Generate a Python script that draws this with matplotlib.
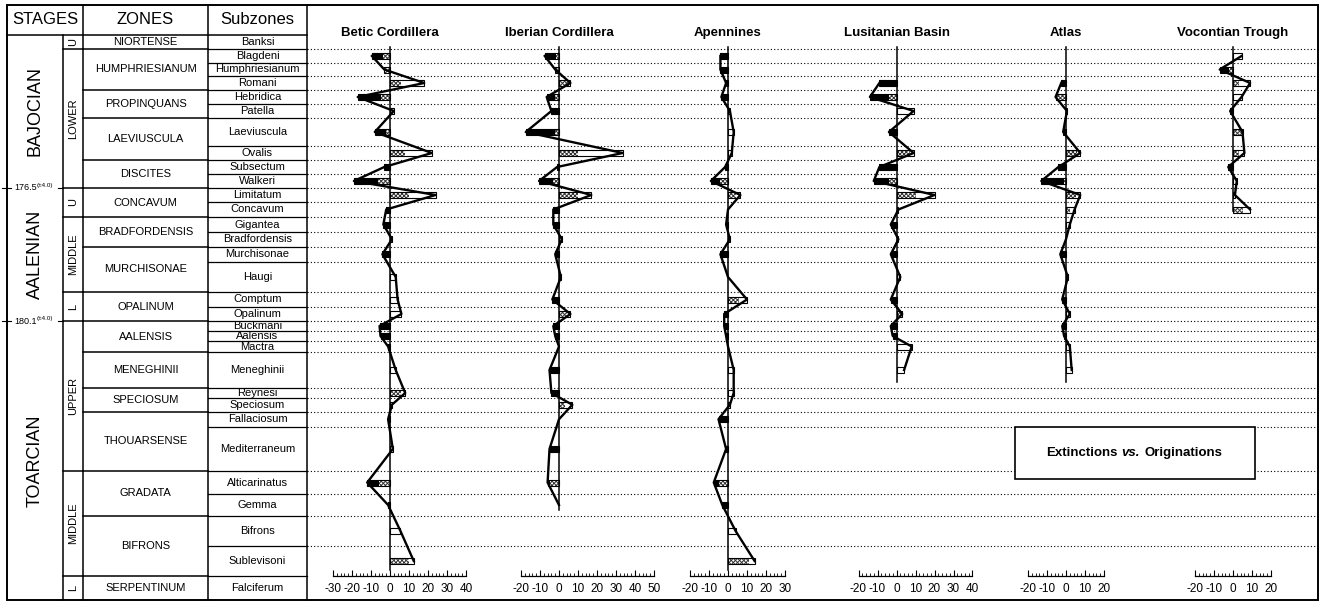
import numpy as np
import matplotlib
matplotlib.use('Agg')
import matplotlib.pyplot as plt
from matplotlib.patches import Rectangle
from matplotlib.ticker import MultipleLocator

plt.rcParams['font.family'] = ['Liberation Sans', 'DejaVu Sans']
plt.rcParams['axes.unicode_minus'] = False
plt.rcParams['hatch.linewidth'] = 0.7
plt.rcParams['hatch.color'] = '#333333'

nan = np.nan

# ---- biostratigraphic scale ----
subzones = ['Banksi', 'Blagdeni', 'Humphriesianum', 'Romani', 'Hebridica', 'Patella',
            'Laeviuscula', 'Ovalis', 'Subsectum', 'Walkeri', 'Limitatum', 'Concavum',
            'Gigantea', 'Bradfordensis', 'Murchisonae', 'Haugi', 'Comptum', 'Opalinum',
            'Buckmani', 'Aalensis', 'Mactra', 'Meneghinii', 'Reynesi', 'Speciosum',
            'Fallaciosum', 'Mediterraneum', 'Alticarinatus', 'Gemma', 'Bifrons',
            'Sublevisoni', 'Falciferum']
# drawn thickness of each subzone row
subzone_len = [14, 14, 13, 14, 14, 14, 28, 14, 14, 14, 14, 15, 15, 14.5, 15.5, 30, 15, 14,
               10, 10, 11, 36, 10, 13.5, 15.5, 44, 23, 22, 30, 30, 24]

zones = ['NIORTENSE', 'HUMPHRIESIANUM', 'PROPINQUANS', 'LAEVIUSCULA', 'DISCITES',
         'CONCAVUM', 'BRADFORDENSIS', 'MURCHISONAE', 'OPALINUM', 'AALENSIS',
         'MENEGHINII', 'SPECIOSUM', 'THOUARSENSE', 'GRADATA', 'BIFRONS', 'SERPENTINUM']
zone_n = [1, 3, 2, 2, 2, 2, 2, 2, 2, 3, 1, 2, 2, 2, 2, 1]          # subzones per zone

substages = ['U', 'LOWER', 'U', 'MIDDLE', 'L', 'UPPER', 'MIDDLE', 'L']
substage_n = [1, 4, 1, 2, 1, 4, 2, 1]                               # zones per substage

stages = ['BAJOCIAN', 'AALENIAN', 'TOARCIAN']
stage_n = [2, 3, 3]                                                 # substages per stage
ages = ['176.5', '180.1']

# ---- extinctions vs originations per basin ----
titles = ['Betic Cordillera', 'Iberian Cordillera', 'Apennines',
          'Lusitanian Basin', 'Atlas', 'Vocontian Trough']
x_ranges = [(-30, 40), (-20, 50), (-20, 30), (-20, 40), (-20, 20), (-20, 20)]

betic = [nan, -9.5, -3, 18, -17, 2, -8, 22, -3, -19, 24, -2, -3.5, 1, -4, 3, 4, 6,
         -5.5, -5, -1, 3, 8, 1, -1, 1.5, -12, -1, 5.5, 12.5, nan]
betic_h = [0, -3.5, -3, 6, -5, 0, -2, 8, 0, -6.5, 10, 0, 0, 0, 0, 0, 0, 0,
           0, 0, 0, 0, 6, 0, 0, 0, -6, 0, 0, 10, 0]

iberian = [nan, -7.5, -2, 6, -6.5, -4, -17.5, 33.5, -1, -10.5, 17, -3, -3, 1.5, -2, 1,
           -3.5, 6, -3, -2, 0, -5, -4, 7, 0, -5, -6, 0, nan, nan, nan]
iberian_h = [0, -1.5, -2, 5, -2, 0, -2, 10, 0, -3, 10, 0, 0, 0, 0, 0, 0, 4,
             0, 0, 0, 0, 0, 3, 0, 0, -5, 0, 0, 0, 0]

apennines = [nan, -4, -4, -1, -3.5, 1, 3, 2, -1.5, -9, 6.5, 0, -1, 1, -4, 0, 10, -2,
             -2, -1, 0, 3, 3, 1, -5, -1, -7.5, -3, 4, 14, nan]
apennines_h = [0, 0, 0, 0, 0, 0, 0, 0, 0, -4, 4, 0, 0, 0, 0, 0, 6, 0,
               0, 0, 0, 0, 0, 0, 0, 0, -5, 0, 0, 11, 0]

lusitanian = [nan, nan, nan, -9, -14, 9, -4, 9, -9, -12, 20, 1, -3, 1, -3, 2, -3, 3,
              -3, -2, 8, 4, nan, nan, nan, nan, nan, nan, nan, nan, nan]
lusitanian_h = [0, 0, 0, 0, -4, 0, 0, 7, 0, -4, 10.5, 0, 0, 0, 0, 0, 0, 3,
                0, 0, 0, 0, 0, 0, 0, 0, 0, 0, 0, 0, 0]

atlas = [nan, nan, nan, -2.5, -5.5, 0.5, -1.5, 7.5, -4, -13, 7.5, 4.5, 2, 0, -3, 1, -2, 2,
         -2, -1, 2, 3, nan, nan, nan, nan, nan, nan, nan, nan, nan]
atlas_h = [0, 0, 0, 0, -5.5, 0, 0, 6, 0, -1, 5, 2, 0, 0, 0, 0, 0, 0,
           0, 0, 0, 0, 0, 0, 0, 0, 0, 0, 0, 0, 0]

vocontian = [nan, 4.5, -7, 9, 4.5, -1.5, 5, 6, -2.5, 2, 1, 9] + [nan] * 19
vocontian_h = [0, 0, -2, 3, 0, 0, 5, 3, 0, 0, 0, 5] + [0] * 19

series = [(betic, betic_h), (iberian, iberian_h), (apennines, apennines_h),
          (lusitanian, lusitanian_h), (atlas, atlas_h), (vocontian, vocontian_h)]

# ---- layout (pixels) ----
W, H = 1323, 610
Y0 = 35                      # top of the first subzone row
zero_px = [390, 559, 728, 896.5, 1066, 1233]
SCALE = 1.9                  # px per unit
X_ST, X_SUB, X_ZN, X_SZ, X_END = 7, 63, 83, 208, 307
RIGHT = 1318
BAR_H = 6

edges = np.concatenate([[0], np.cumsum(subzone_len)])
centers = (edges[:-1] + edges[1:]) / 2

fig = plt.figure(figsize=(W / 100, H / 100), dpi=100)
ax = fig.add_axes([0, 0, 1, 1])
ax.set_xlim(0, W)
ax.set_ylim(H - Y0, -Y0)
ax.axis('off')

top, bottom = -30, edges[-1]
lw = 1.1
# outer frame and column lines
ax.add_patch(Rectangle((X_ST, top), RIGHT - X_ST, bottom - top, fill=False, lw=1.4))
ax.plot([X_ST, X_END], [0, 0], color='black', lw=lw)
for x, y1 in [(X_SUB, 0), (X_ZN, top), (X_SZ, top), (X_END, top)]:
    ax.plot([x, x], [y1, bottom], color='black', lw=lw)

ax.text((X_ST + X_ZN) / 2, top / 2, 'STAGES', ha='center', va='center', fontsize=12)
ax.text((X_ZN + X_SZ) / 2, top / 2, 'ZONES', ha='center', va='center', fontsize=12)
ax.text((X_SZ + X_END) / 2, top / 2, 'Subzones', ha='center', va='center', fontsize=12)

# subzones
for i, name in enumerate(subzones):
    if i > 0:
        ax.plot([X_SZ, X_END], [edges[i], edges[i]], color='black', lw=0.9)
    ax.text((X_SZ + X_END) / 2, centers[i], name, ha='center', va='center', fontsize=8)

# zones
zone_edges = edges[np.concatenate([[0], np.cumsum(zone_n)])]
for i, name in enumerate(zones):
    if i > 0:
        ax.plot([X_ZN, X_SZ], [zone_edges[i]] * 2, color='black', lw=lw)
    ax.text((X_ZN + X_SZ) / 2, (zone_edges[i] + zone_edges[i + 1]) / 2, name,
            ha='center', va='center', fontsize=8)

# substages
sub_edges = zone_edges[np.concatenate([[0], np.cumsum(substage_n)])]
for i, name in enumerate(substages):
    if i > 0:
        ax.plot([X_SUB, X_ZN], [sub_edges[i]] * 2, color='black', lw=lw)
    ax.text((X_SUB + X_ZN) / 2, (sub_edges[i] + sub_edges[i + 1]) / 2, name,
            ha='center', va='center', rotation=90, fontsize=8)

# stages
st_edges = sub_edges[np.concatenate([[0], np.cumsum(stage_n)])]
for i, name in enumerate(stages):
    ax.text((X_ST + X_SUB) / 2, (st_edges[i] + st_edges[i + 1]) / 2, name,
            ha='center', va='center', rotation=90, fontsize=13)
for yb, age in zip(st_edges[1:-1], ages):
    ax.plot([2, 11], [yb, yb], color='black', lw=0.8)
    ax.plot([58, X_SUB], [yb, yb], color='black', lw=0.8)
    t = ax.text(14, yb, age, ha='left', va='center', fontsize=6.5)
    ax.annotate('(±4.0)', xy=(1, 0.8), xycoords=t, ha='left', va='center', fontsize=4.5)

# dotted guide lines
for y in edges[1:-2]:
    ax.plot([X_END, RIGHT], [y, y], color='black', lw=0.8, linestyle=(0, (1, 2)), zorder=1)

# panels
ax_top_px = Y0
ax_bot_px = Y0 + edges[-2]
for title, (xmin, xmax), z, (net, hat) in zip(titles, x_ranges, zero_px, series):
    left = z + xmin * SCALE
    pax = fig.add_axes([left / W, (H - ax_bot_px) / H,
                        (xmax - xmin) * SCALE / W, (ax_bot_px - ax_top_px) / H])
    pax.set_xlim(xmin, xmax)
    pax.set_ylim(edges[-2], 0)
    pax.patch.set_alpha(0)
    for s in ['top', 'left', 'right']:
        pax.spines[s].set_visible(False)
    pax.spines['bottom'].set_linewidth(0.9)
    pax.set_yticks([])
    pax.xaxis.set_major_locator(MultipleLocator(10))
    pax.xaxis.set_minor_locator(MultipleLocator(2))
    pax.tick_params(axis='x', which='major', direction='in', length=4, width=0.8,
                    labelsize=8.5, pad=5)
    pax.tick_params(axis='x', which='minor', direction='in', length=2.5, width=0.6)

    net = np.array(net, dtype=float)
    valid = np.where(~np.isnan(net))[0]
    pax.plot([0, 0], [edges[1] - 2, edges[valid[-1] + 1] - 6], color='black', lw=1.1)
    for yc, v, h in zip(centers, net, hat):
        if np.isnan(v) or v == 0:
            continue
        if h != 0:
            pax.barh(yc, h, height=BAR_H, color='white', hatch='xxxxxxxx',
                     edgecolor='#333333', linewidth=0)
        if v < 0 and v != h:
            pax.barh(yc, v - h, left=h, height=BAR_H, color='black', linewidth=0)
        pax.barh(yc, v, height=BAR_H, fill=False, edgecolor='black', linewidth=0.8)
    pax.plot(net, centers, color='black', lw=1.7)

    ax.text(z, -2, title, ha='center', va='center', fontsize=9.5, fontweight='bold')

# legend box
ax.add_patch(Rectangle((1015, 427 - Y0), 240, 52, facecolor='white', edgecolor='black',
                       lw=1.2, zorder=5))
t1 = ax.text(1046, 453 - Y0, 'Extinctions', ha='left', va='center', fontsize=9.5,
             fontweight='bold', zorder=6)
t2 = ax.annotate('vs.', xy=(1, 0), xycoords=t1, xytext=(3, 0), textcoords='offset points',
                 ha='left', va='bottom', fontsize=9.5, fontweight='bold', style='italic',
                 zorder=6)
ax.annotate('Originations', xy=(1, 0), xycoords=t2, xytext=(3, 0),
            textcoords='offset points', ha='left', va='bottom', fontsize=9.5,
            fontweight='bold', zorder=6)

fig.savefig('out.png', dpi=100)
